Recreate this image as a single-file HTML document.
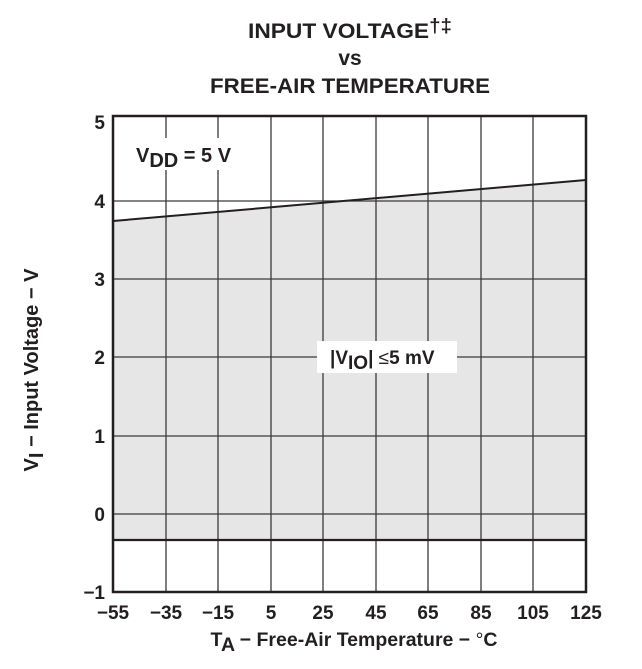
<!DOCTYPE html>
<html><head><meta charset="utf-8"><style>
html,body{margin:0;padding:0;background:#fff;}
svg{display:block;font-family:"Liberation Sans",Arial,sans-serif;font-weight:bold;fill:#231f20;}
</style></head><body>
<svg width="642" height="669" viewBox="0 0 642 669" xmlns="http://www.w3.org/2000/svg">
<text x="350" y="38" font-size="21" text-anchor="middle" textLength="204" lengthAdjust="spacingAndGlyphs">INPUT VOLTAGE<tspan font-size="19" dy="-6">†‡</tspan></text>
<text x="350" y="65" font-size="21" text-anchor="middle">vs</text>
<text x="350" y="93" font-size="21" text-anchor="middle" textLength="280" lengthAdjust="spacingAndGlyphs">FREE-AIR TEMPERATURE</text>
<polygon points="113,221 586,180 586,540 113,540" fill="#e6e6e6"/>
<g stroke="#3a3a3a" stroke-width="1.3">
<line x1="166" y1="116" x2="166" y2="592"/><line x1="218" y1="116" x2="218" y2="592"/>
<line x1="271" y1="116" x2="271" y2="592"/><line x1="323" y1="116" x2="323" y2="592"/>
<line x1="376" y1="116" x2="376" y2="592"/><line x1="428" y1="116" x2="428" y2="592"/>
<line x1="481" y1="116" x2="481" y2="592"/><line x1="533" y1="116" x2="533" y2="592"/>
<line x1="113" y1="201" x2="586" y2="201"/><line x1="113" y1="279" x2="586" y2="279"/>
<line x1="113" y1="357" x2="586" y2="357"/><line x1="113" y1="436" x2="586" y2="436"/>
<line x1="113" y1="514" x2="586" y2="514"/>
</g>
<rect x="130" y="138" width="122" height="32" fill="#fff"/>
<text x="136" y="162" font-size="20">V<tspan dy="5">DD</tspan><tspan dy="-5"> = 5 V</tspan></text>
<rect x="317" y="341" width="140" height="32" fill="#fff"/>
<text x="330" y="364" font-size="19">|V<tspan dy="5">IO</tspan><tspan dy="-5">| </tspan><tspan font-weight="normal">≤</tspan>5 mV</text>
<line x1="113" y1="221" x2="586" y2="180" stroke="#231f20" stroke-width="2"/>
<line x1="113" y1="540" x2="586" y2="540" stroke="#231f20" stroke-width="2.2"/>
<rect x="113" y="116" width="473" height="476" fill="none" stroke="#231f20" stroke-width="2.5"/>
<g font-size="19" text-anchor="end">
<text x="105" y="129">5</text><text x="105" y="208">4</text><text x="105" y="286">3</text>
<text x="105" y="364">2</text><text x="105" y="443">1</text><text x="105" y="521">0</text><text x="105" y="599">−1</text>
</g>
<g font-size="19" text-anchor="middle">
<text x="113" y="619">−55</text><text x="166" y="619">−35</text><text x="218" y="619">−15</text>
<text x="271" y="619">5</text><text x="323" y="619">25</text><text x="376" y="619">45</text>
<text x="428" y="619">65</text><text x="481" y="619">85</text><text x="533" y="619">105</text><text x="586" y="619">125</text>
</g>
<text x="354" y="646" font-size="19.5" text-anchor="middle">T<tspan dy="5">A</tspan><tspan dy="-5"> − Free-Air Temperature − </tspan><tspan font-weight="normal">°</tspan>C</text>
<text transform="translate(38,370) rotate(-90)" font-size="20" text-anchor="middle">V<tspan dy="5">I</tspan><tspan dy="-5"> − Input Voltage − V</tspan></text>
</svg>
</body></html>
